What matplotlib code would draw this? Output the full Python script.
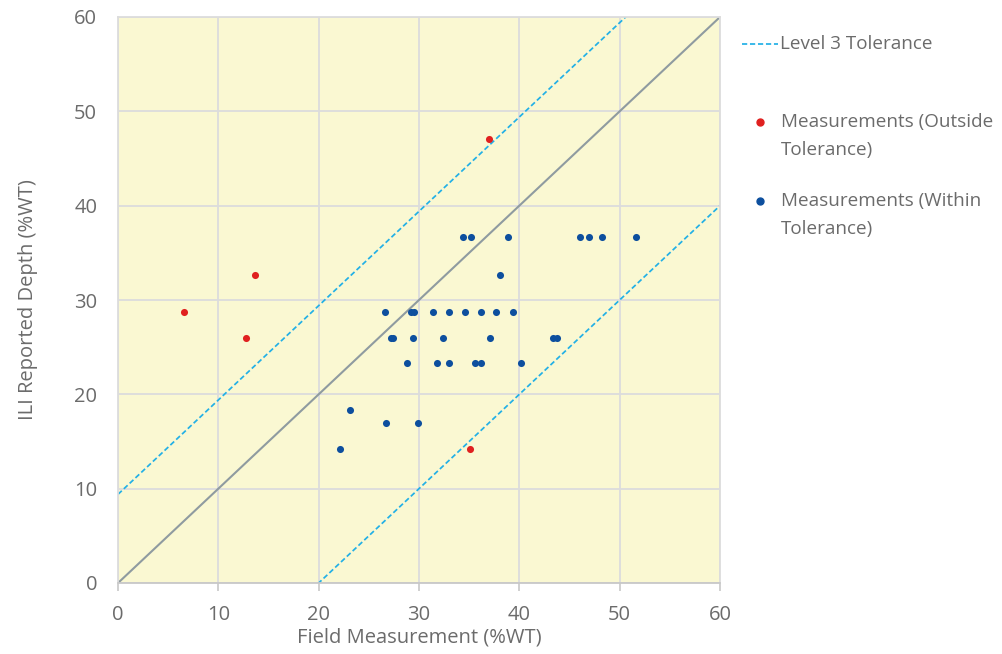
import matplotlib
matplotlib.use("Agg")
import matplotlib.pyplot as plt
from matplotlib.lines import Line2D
import numpy as np

plt.rcParams['font.family'] = ['Open Sans', 'DejaVu Sans']

# Field vs ILI depth measurements (%WT)
outside_field = [6.6, 12.8, 13.7, 37.0, 35.1]
outside_ili = [28.7, 26.0, 32.65, 47.1, 14.25]

within_field = [34.4, 35.2, 38.9, 46.0, 46.9, 48.2, 51.6,
                38.1,
                26.6, 29.2, 29.5, 31.4, 33.0, 34.6, 36.2, 37.7, 39.4,
                27.2, 27.45, 29.4, 32.4, 37.1, 43.4, 43.8,
                28.8, 31.8, 33.0, 35.6, 36.15, 40.2,
                23.1, 26.7, 29.9, 22.1]
within_ili = [36.7, 36.7, 36.7, 36.7, 36.7, 36.7, 36.7,
              32.65,
              28.7, 28.7, 28.7, 28.7, 28.7, 28.7, 28.7, 28.7, 28.7,
              26.0, 26.0, 26.0, 26.0, 26.0, 26.0, 26.0,
              23.3, 23.3, 23.3, 23.3, 23.3, 23.3,
              18.3, 17.0, 17.0, 14.25]

# Tolerance band (offsets from the 1:1 line)
tol_upper = 9.4
tol_lower = -20.0
axis_limits = [0, 60]
ticks = [0, 10, 20, 30, 40, 50, 60]

legend_labels = ['Level 3 Tolerance',
                 ['Measurements (Outside', 'Tolerance)'],
                 ['Measurements (Within', 'Tolerance)']]

text_color = '#6b6b6b'
bg_color = '#faf8d2'
grid_color = '#dcdcdc'
red = '#e0201f'
blue = '#0d4f9e'
cyan = '#22b0e6'
unity_color = '#8f9ba0'
tol_style = (0, (3, 1.6))
legend_size = 13.6

W, H = 1003, 654
fig = plt.figure(figsize=(W / 100, H / 100), dpi=100)
ax = fig.add_axes([118 / W, 1 - 583 / H, 602 / W, 566 / H])
ax.set_facecolor(bg_color)

ax.set_xlim(axis_limits)
ax.set_ylim(axis_limits)
ax.set_xticks(ticks)
ax.set_yticks(ticks)
ax.grid(True, color=grid_color, linewidth=1.3)
ax.set_axisbelow(True)

for side in ['top', 'right', 'left']:
    ax.spines[side].set_color(grid_color)
    ax.spines[side].set_linewidth(1.3)
ax.spines['bottom'].set_color('#c8c8c8')
ax.spines['bottom'].set_linewidth(1.3)

ax.tick_params(axis='x', length=6, width=1.2, color='#c8c8c8',
               labelsize=14.5, labelcolor=text_color, pad=10)
ax.tick_params(axis='y', length=0, labelsize=14.5, labelcolor=text_color, pad=15)

xs = np.array(axis_limits, dtype=float)
ax.plot(xs, xs, color=unity_color, linewidth=1.5, zorder=2)
ax.plot(xs, xs + tol_upper, color=cyan, linewidth=1.25, linestyle=tol_style, zorder=2)
ax.plot(xs, xs + tol_lower, color=cyan, linewidth=1.25, linestyle=tol_style, zorder=2)

ax.scatter(outside_field, outside_ili, s=26, color=red, zorder=3, linewidths=0)
ax.scatter(within_field, within_ili, s=26, color=blue, zorder=3, linewidths=0)

ax.set_xlabel('Field Measurement (%WT)', fontsize=14.5, color=text_color, labelpad=2)
ax.set_ylabel('ILI Reported Depth (%WT)', fontsize=14.5, color=text_color, labelpad=26)


# Legend drawn to the right of the plot area, in pixel positions
def fx(px):
    return px / W


def fy(py):
    return 1 - py / H


fig.add_artist(Line2D([fx(742), fx(778)], [fy(44), fy(44)], transform=fig.transFigure,
                      color=cyan, linewidth=1.25, linestyle=tol_style))
fig.text(fx(780), fy(44), legend_labels[0], fontsize=legend_size, color=text_color,
         va='center', ha='left')

for (marker_color, lines, py) in [(red, legend_labels[1], 122), (blue, legend_labels[2], 201)]:
    fig.add_artist(Line2D([fx(760)], [fy(py)], transform=fig.transFigure,
                          color=marker_color, marker='o', markersize=5, linestyle='none'))
    for i, line in enumerate(lines):
        fig.text(fx(781), fy(py + 28 * i), line, fontsize=legend_size, color=text_color,
                 va='center', ha='left')

fig.savefig('out.png', dpi=100, facecolor='white')
